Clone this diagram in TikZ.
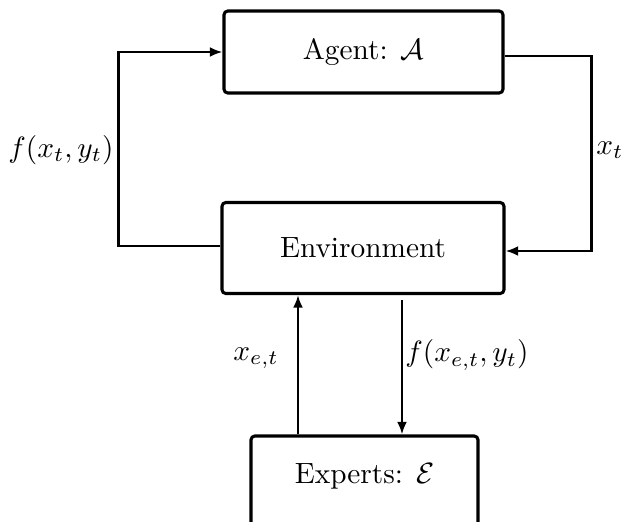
\documentclass[tikz,border=0pt]{standalone}
\usetikzlibrary{arrows.meta,calc}
\begin{document}
\begin{tikzpicture}[x=0.341pt,y=-0.341pt,
  box/.style={draw,line width=1.05pt,rounded corners=1.3pt,inner sep=0pt},
  conn/.style={line width=0.95pt},
  arr/.style={conn,-{Latex[length=4.3pt,width=3.4pt]}},
  lab/.style={inner sep=0pt}]
\useasboundingbox (0,0) rectangle (634,522);
\clip (0,0) rectangle (634,522);
\node[box,minimum width=279*0.341pt,minimum height=82*0.341pt] (agent) at (363.5,52) {Agent: $\mathcal{A}$};
\node[box,minimum width=282*0.341pt,minimum height=91*0.341pt] (env) at (363,248) {Environment};
\node[box,minimum width=227*0.341pt,minimum height=96*0.341pt,text depth=7.4pt] (experts) at (364.5,484) {Experts: $\mathcal{E}$};
% left loop
\draw[arr] ($(env.west)+(0,-2)$) -- ++(-102,0) |- (agent.west);
\node[lab] (fxy) at (61,150) {$f(x_t, y_t)$};
% right loop
\draw[arr] ($(agent.east)+(0,4)$) -- ++(87,0) |- ($(env.east)+(0,3)$);
\node[lab] (xt) at (610,150) {$x_t$};
% bottom
\coordinate (u) at ($(experts.north)+(-66.5,0)$);
\coordinate (d) at ($(experts.north)+(37.5,0)$);
\draw[arr] (u) -- (u |- env.south);
\draw[arr] ($(d |- env.south)+(0,5)$) -- (d);
\node[lab] (xet) at (256,358) {$x_{e,t}$};
\node[lab] (fxe) at (467,355) {$f(x_{e,t}, y_t)$};
\end{tikzpicture}
\end{document}
